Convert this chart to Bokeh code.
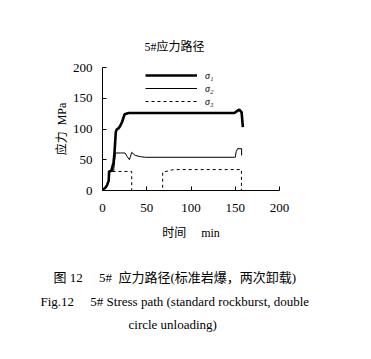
from bokeh.plotting import figure
from bokeh.models import Range1d, Legend, LegendItem, Title, FixedTicker
from bokeh.embed import file_html
from bokeh.resources import INLINE

# ---- data ----
t_s1 = [0, 1, 3, 5, 7, 7.5, 10, 12.5, 13.5, 15, 16, 18, 20, 22, 25, 29.5, 60, 100, 149, 152, 154.5, 157.2, 158.6]
s1 = [0, 2, 4, 8, 16, 31, 32, 46, 60, 95, 99, 101, 105, 111, 124, 126, 126, 126, 126, 129, 131.5, 127, 103]

t_s2 = [0, 1, 3, 5, 7, 7.5, 10, 12.5, 13.5, 14.5, 20, 25.5, 28, 30.5, 31.5, 33, 37, 43, 48.6, 100, 149, 150, 151, 152.7, 157.2, 157.2]
s2 = [0, 2, 4, 8, 16, 30, 31, 31, 45, 61, 61, 61, 55, 50, 55, 62, 57, 55, 54, 54, 54, 54, 63, 68, 68, 57]

t_s3 = [0, 1, 3, 5, 7, 7.5, 10, 33, 33, 68, 68, 75, 80, 157, 157]
s3 = [0, 2, 4, 8, 16, 30, 31, 31, 0, 0, 30, 32, 34, 34, 0]

x_ticks = [0, 50, 100, 150, 200]
y_ticks = [0, 50, 100, 150, 200]
series_names = ["\u03c3\u2081", "\u03c3\u2082", "\u03c3\u2083"]

SERIF = "'Times New Roman', 'Liberation Serif', 'Noto Sans CJK SC'"
SP = "\u00a0"

p = figure(width=363, height=351, output_backend="svg", toolbar_location=None,
           x_range=Range1d(0, 200), y_range=Range1d(0, 200),
           min_border_left=102, min_border_right=84, min_border_top=67, min_border_bottom=161)
p.outline_line_color = None
p.xgrid.visible = False
p.ygrid.visible = False
p.background_fill_color = "white"

for ax in (p.xaxis[0], p.yaxis[0]):
    ax.axis_line_color = "black"
    ax.axis_line_width = 1
    ax.major_tick_in = 4
    ax.major_tick_out = 0
    ax.minor_tick_line_color = None
    ax.major_label_text_font = SERIF
    ax.major_label_text_font_size = "13px"
    ax.major_label_text_color = "black"
p.xaxis[0].major_label_standoff = 13
p.yaxis[0].major_label_standoff = 10
p.xaxis[0].ticker = FixedTicker(ticks=x_ticks)
p.yaxis[0].ticker = FixedTicker(ticks=y_ticks)

for ax, txt, so in ((p.yaxis[0], "应力" + SP * 2 + "MPa", 1),
                    (p.xaxis[0], "时间" + SP * 5 + "min", 11)):
    ax.axis_label = txt
    ax.axis_label_text_font = SERIF
    ax.axis_label_text_font_size = "12px"
    ax.axis_label_text_font_style = "normal"
    ax.axis_label_text_color = "black"
    ax.axis_label_standoff = so

r1 = p.line(t_s1, s1, line_color="black", line_width=2.6)
r2 = p.line(t_s2, s2, line_color="black", line_width=1)
r3 = p.line(t_s3, s3, line_color="black", line_width=1, line_dash="3 3")

legend = Legend(items=[LegendItem(label=series_names[0], renderers=[r1]),
                       LegendItem(label=series_names[1], renderers=[r2]),
                       LegendItem(label=series_names[2], renderers=[r3])],
                location=(43, 83), orientation="vertical",
                glyph_width=52, glyph_height=12, label_height=12, spacing=1,
                label_standoff=8, padding=0, margin=0,
                border_line_color=None, background_fill_alpha=0,
                label_text_font=SERIF, label_text_font_size="10px",
                label_text_font_style="italic", label_text_color="black")
p.add_layout(legend)


def add_title(text, side, left_px, standoff, size="13px", lh=1.2):
    t = Title(text=text, align="left", offset=left_px - 102, standoff=standoff,
              text_font=SERIF, text_font_size=size, text_font_style="normal",
              text_color="black", text_line_height=lh)
    p.add_layout(t, side)


add_title("5#应力路径", "above", 144, 28, "12px")

# spacer between axis title and caption
add_title(SP, "below", 102, 22, "1px", lh=1.0)
add_title("图" + SP + "12" + SP * 5 + "5#" + SP * 2 + "应力路径(标准岩爆，两次卸载)", "below", 53, 0, lh=1.0)
add_title("Fig.12" + SP * 5 + "5#" + SP + "Stress path (standard rockburst, double", "below", 40, 14, lh=1.0)
add_title("circle unloading)", "below", 128, -2)

open("out.html", "w").write(file_html(p, INLINE))
